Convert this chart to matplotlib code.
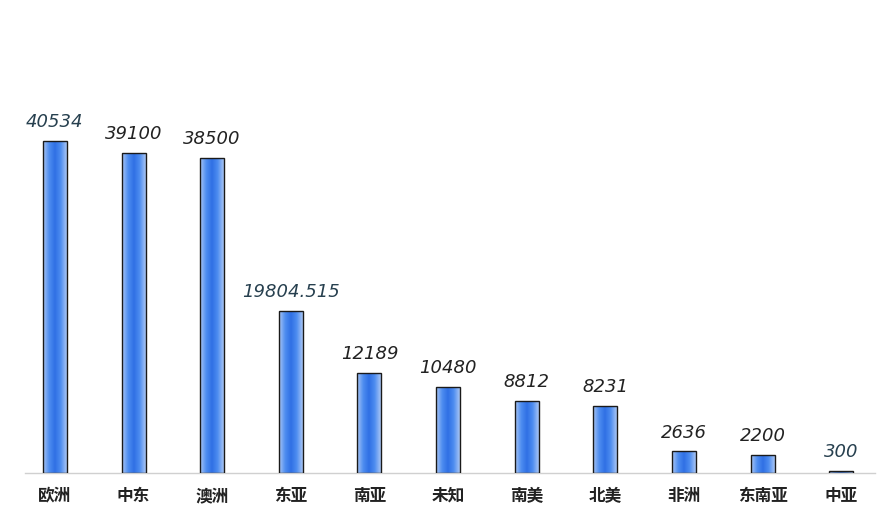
import numpy as np
import matplotlib.pyplot as plt
from matplotlib.colors import LinearSegmentedColormap

plt.rcParams['font.family'] = ['Noto Sans CJK SC', 'DejaVu Sans']

regions = ['欧洲', '中东', '澳洲', '东亚', '南亚', '未知', '南美', '北美', '非洲', '东南亚', '中亚']
values = [40534, 39100, 38500, 19804.515, 12189, 10480, 8812, 8231, 2636, 2200, 300]
labels = ['40534', '39100', '38500', '19804.515', '12189', '10480', '8812', '8231', '2636', '2200', '300']
blueish = [True, False, False, True, False, False, False, False, False, False, True]

fig = plt.figure(figsize=(8.86, 5.27), dpi=100)
ax = fig.add_axes([25/886, 54/527, 850/886, 373/527])

x = np.arange(len(regions))
w = 0.305
bars = ax.bar(x, values, width=w, color='none', edgecolor='#1a1a1a', linewidth=1.0, zorder=3)

# horizontal gradient inside each bar: pale edges, strong blue centre
cmap = LinearSegmentedColormap.from_list('bar', ['#a9c6f5', '#4f8ef0', '#2f6fe4', '#4f8ef0', '#a9c6f5'])
grad = np.linspace(0, 1, 64).reshape(1, -1)
for b in bars:
    x0, y0 = b.get_x(), b.get_y()
    im = ax.imshow(grad, cmap=cmap, aspect='auto', extent=[x0, x0 + b.get_width(), y0, y0 + b.get_height()],
                   zorder=2, interpolation='bicubic')
    im.set_clip_path(b)

for xi, v, lab, bl in zip(x, values, labels, blueish):
    ax.annotate(lab, (xi, v), xytext=(0, 7), textcoords='offset points', ha='center', va='bottom',
                fontsize=13, style='italic', family='DejaVu Sans',
                color='#27404f' if bl else '#222222')

ax.set_xlim(-0.38, 10.43)
ax.set_ylim(0, 45540)
ax.set_xticks(x)
ax.set_xticklabels(regions, fontsize=12, fontweight='bold', color='#222222')
ax.tick_params(axis='x', length=0, pad=10)
ax.set_yticks([])
for s in ['top', 'right', 'left']:
    ax.spines[s].set_visible(False)
ax.spines['bottom'].set_color('#d0d0d0')
ax.spines['bottom'].set_linewidth(1.0)

fig.savefig('out.png', dpi=100, facecolor='white')
